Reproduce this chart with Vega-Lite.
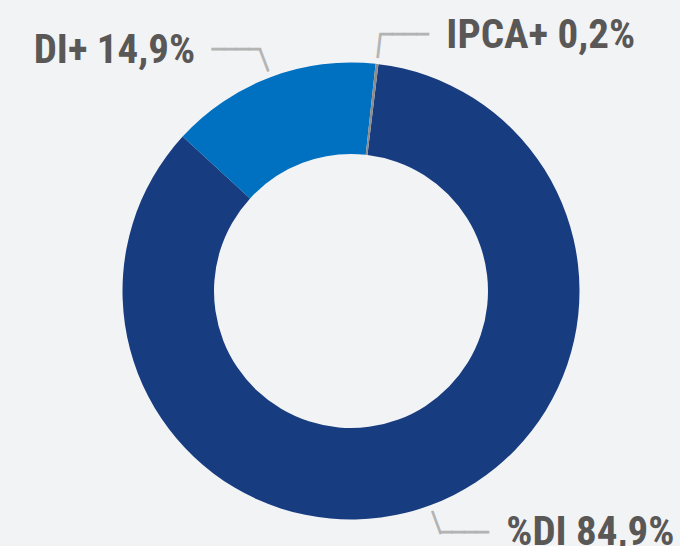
{
  "$schema": "https://vega.github.io/schema/vega-lite/v6.json",
  "width": 658,
  "height": 508,
  "autosize": {"type": "none"},
  "padding": {"left": 22, "top": 37, "right": 0, "bottom": 1},
  "background": "#F2F3F5",
  "view": {"stroke": null, "fill": null},
  "data": {
    "values": [
      {"categoria": "%DI", "valor": 84.9, "rotulo": "%DI 84,9%", "ordem": 1},
      {"categoria": "DI+", "valor": 14.9, "rotulo": "DI+ 14,9%", "ordem": 2},
      {"categoria": "IPCA+", "valor": 0.2, "rotulo": "IPCA+ 0,2%", "ordem": 3}
    ]
  },
  "encoding": {
    "theta": {"field": "valor", "type": "quantitative", "stack": true, "scale": {"range": [0.1204, 6.4036]}},
    "order": {"field": "ordem", "type": "quantitative", "sort": "ascending"}
  },
  "layer": [
    {
      "mark": {"type": "arc", "outerRadius": 228.5, "innerRadius": 137},
      "encoding": {
        "color": {
          "field": "categoria",
          "type": "nominal",
          "scale": {"domain": ["%DI", "DI+", "IPCA+"], "range": ["#173C80", "#0070C0", "#8C8C8C"]},
          "legend": null
        }
      }
    },
    {
      "mark": {"type": "text", "font": "DejaVu Sans", "fontSize": 20, "align": "center", "baseline": "middle", "color": "#B3B3B3", "stroke": "#B3B3B3", "strokeWidth": 1},
      "encoding": {
        "radius": {"value": 246},
        "text": {"value": "│"},
        "angle": {
          "condition": [
            {"test": "datum.categoria === 'DI+'", "value": -20.7},
            {"test": "datum.categoria === '%DI'", "value": 159.7}
          ],
          "value": 6.5
        }
      }
    },
    {
      "mark": {"type": "text", "font": "DejaVu Sans", "fontSize": 20, "align": "right", "baseline": "middle", "color": "#B3B3B3", "stroke": "#B3B3B3", "strokeWidth": 1},
      "encoding": {
        "radius": {"value": 257.5},
        "text": {"condition": {"test": "datum.categoria === 'DI+'", "value": "────"}, "value": ""}
      }
    },
    {
      "mark": {"type": "text", "font": "DejaVu Sans", "fontSize": 20, "align": "left", "baseline": "middle", "color": "#B3B3B3", "stroke": "#B3B3B3", "strokeWidth": 1},
      "encoding": {
        "radius": {"value": 257.5},
        "text": {"condition": {"test": "datum.categoria !== 'DI+'", "value": "────"}, "value": ""}
      }
    },
    {
      "mark": {"type": "text", "font": "Roboto Condensed, Liberation Sans Narrow, Roboto, sans-serif", "fontWeight": "bold", "fontSize": 41, "align": "right", "baseline": "alphabetic", "dx": -65, "dy": 12.5, "color": "#5A5856"},
      "encoding": {
        "radius": {"value": 257.5},
        "text": {"condition": {"test": "datum.categoria === 'DI+'", "field": "rotulo", "type": "nominal"}, "value": ""}
      }
    },
    {
      "mark": {"type": "text", "font": "Roboto Condensed, Liberation Sans Narrow, Roboto, sans-serif", "fontWeight": "bold", "fontSize": 41, "align": "left", "baseline": "alphabetic", "dx": 66, "dy": 12.5, "color": "#5A5856"},
      "encoding": {
        "radius": {"value": 257.5},
        "text": {"condition": {"test": "datum.categoria !== 'DI+'", "field": "rotulo", "type": "nominal"}, "value": ""}
      }
    }
  ]
}
